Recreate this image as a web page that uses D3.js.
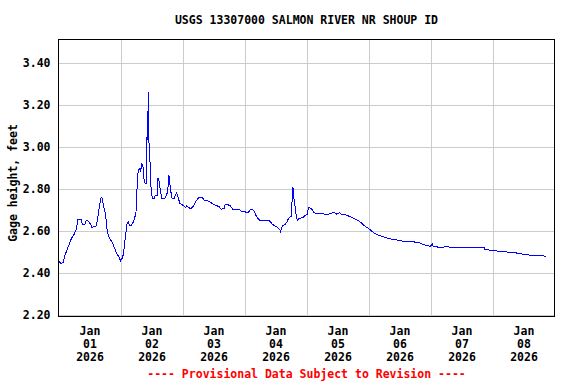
<!DOCTYPE html>
<html>
<head>
<meta charset="utf-8">
<script src="https://cdn.jsdelivr.net/npm/d3@7"></script>
<style>
  body { margin: 0; background: #fff; }
  text { font-family: "DejaVu Sans Mono", monospace; font-weight: bold; font-size: 11.5px; }
</style>
</head>
<body>
<svg id="chart" width="576" height="384"></svg>
<script>
// gage height readings
var times = [
  "01-01 00:00","01-01 01:00","01-01 01:45","01-01 02:30","01-01 03:45","01-01 05:00","01-01 06:00","01-01 07:00",
  "01-01 07:30","01-01 08:45","01-01 09:15","01-01 10:15","01-01 10:45","01-01 11:30","01-01 12:15","01-01 13:00",
  "01-01 13:30","01-01 14:30","01-01 15:00","01-01 15:30","01-01 16:00","01-01 16:30","01-01 16:45","01-01 17:15",
  "01-01 17:45","01-01 18:15","01-01 18:45","01-01 19:15","01-01 20:00","01-01 21:00","01-01 21:45","01-01 22:30",
  "01-01 23:30",
  "01-02 00:00","01-02 00:45","01-02 01:15","01-02 01:30","01-02 02:00","01-02 02:30","01-02 03:00","01-02 03:30",
  "01-02 04:15","01-02 05:00","01-02 05:30","01-02 06:00","01-02 06:15","01-02 06:45","01-02 07:15","01-02 07:45",
  "01-02 08:15","01-02 08:45","01-02 09:00","01-02 09:30","01-02 10:00","01-02 10:15","01-02 10:30","01-02 10:45",
  "01-02 11:00","01-02 11:15","01-02 11:30","01-02 11:45","01-02 12:15","01-02 12:30","01-02 13:00","01-02 13:30",
  "01-02 14:15","01-02 14:30","01-02 15:00","01-02 15:30","01-02 16:00","01-02 17:00","01-02 17:30","01-02 18:15",
  "01-02 18:45","01-02 19:00","01-02 19:30","01-02 20:00","01-02 20:45","01-02 21:15","01-02 21:45","01-02 22:15",
  "01-02 23:00",
  "01-03 00:15","01-03 01:15","01-03 01:30","01-03 02:30","01-03 03:15","01-03 04:15","01-03 05:00","01-03 05:45",
  "01-03 06:30","01-03 07:30","01-03 08:30","01-03 10:00","01-03 11:00","01-03 11:30","01-03 12:45","01-03 13:30",
  "01-03 14:15","01-03 15:00","01-03 16:15","01-03 16:30","01-03 18:30","01-03 18:45","01-03 19:30","01-03 21:15",
  "01-03 22:15","01-03 23:00",
  "01-04 00:15","01-04 00:45","01-04 01:30","01-04 02:15","01-04 03:00","01-04 03:45","01-04 04:15","01-04 05:00",
  "01-04 05:45","01-04 09:15","01-04 10:00","01-04 10:45","01-04 11:30","01-04 12:15","01-04 13:00","01-04 13:45",
  "01-04 14:00","01-04 14:15","01-04 14:45","01-04 15:45","01-04 16:30","01-04 17:00","01-04 17:45","01-04 18:15",
  "01-04 18:30","01-04 18:45","01-04 19:00","01-04 19:15","01-04 19:45","01-04 20:00","01-04 20:30","01-04 21:00",
  "01-04 22:45","01-04 23:30",
  "01-05 00:15","01-05 00:45","01-05 01:30","01-05 02:15","01-05 03:00","01-05 05:00","01-05 07:00","01-05 08:00",
  "01-05 09:30","01-05 10:45","01-05 11:30","01-05 12:45","01-05 13:45","01-05 15:00","01-05 16:15","01-05 17:45",
  "01-05 19:15","01-05 20:30","01-05 21:30","01-05 22:15","01-05 23:30",
  "01-06 00:45","01-06 01:45","01-06 03:00","01-06 04:15","01-06 05:45","01-06 07:30","01-06 09:30","01-06 11:30",
  "01-06 13:00","01-06 16:15","01-06 18:30","01-06 20:00","01-06 22:00",
  "01-07 00:00","01-07 00:45","01-07 01:00","01-07 02:30","01-07 02:45","01-07 07:00","01-07 07:30","01-07 20:45",
  "01-07 21:00",
  "01-08 00:15","01-08 03:00","01-08 08:45","01-08 12:00","01-08 15:00","01-08 20:45"
];
var gageHeight = [
  2.455,2.441,2.448,2.482,2.522,2.562,2.581,2.610,
  2.652,2.652,2.629,2.629,2.650,2.644,2.633,2.614,
  2.618,2.619,2.644,2.689,2.728,2.759,2.759,2.728,
  2.701,2.676,2.610,2.578,2.559,2.538,2.514,2.490,
  2.473,
  2.455,2.470,2.495,2.530,2.578,2.629,2.641,2.625,
  2.625,2.641,2.660,2.689,2.768,2.871,2.895,2.882,
  2.917,2.903,2.848,2.824,2.824,3.046,3.030,3.260,
  3.030,2.935,2.925,2.816,2.760,2.752,2.752,2.768,
  2.768,2.851,2.832,2.784,2.752,2.752,2.760,2.784,
  2.863,2.832,2.784,2.752,2.752,2.768,2.781,2.760,
  2.728,
  2.720,2.709,2.717,2.708,2.705,2.717,2.736,2.749,
  2.759,2.759,2.743,2.740,2.733,2.728,2.720,2.717,
  2.713,2.701,2.705,2.724,2.720,2.713,2.701,2.701,
  2.698,2.689,
  2.689,2.686,2.686,2.698,2.701,2.692,2.676,2.660,
  2.650,2.650,2.641,2.631,2.622,2.620,2.612,2.603,
  2.590,2.610,2.622,2.629,2.641,2.657,2.667,2.667,
  2.784,2.806,2.781,2.736,2.705,2.670,2.648,2.657,
  2.663,2.673,
  2.676,2.710,2.706,2.700,2.684,2.681,2.678,2.676,
  2.681,2.687,2.678,2.684,2.676,2.676,2.669,2.662,
  2.652,2.643,2.633,2.624,2.614,
  2.602,2.592,2.582,2.576,2.570,2.563,2.557,2.554,
  2.550,2.548,2.544,2.540,2.530,
  2.525,2.535,2.525,2.525,2.518,2.524,2.518,2.518,
  2.511,
  2.504,2.501,2.494,2.487,2.482,2.478
];
var yTicks = [2.20, 2.40, 2.60, 2.80, 3.00, 3.20, 3.40];
var dayLabels = ["01", "02", "03", "04", "05", "06", "07", "08"];
var title = "USGS 13307000 SALMON RIVER NR SHOUP ID";
var yTitle = "Gage height, feet";
var footnote = "---- Provisional Data Subject to Revision ----";

var parse = d3.timeParse("%Y-%m-%d %H:%M");
var data = times.map(function(t, i) {
  return { date: parse("2026-" + t), value: gageHeight[i] };
});

var plotLeft = 58.5, plotRight = 554.5, plotTop = 39.5, plotBottom = 316.5;
var svg = d3.select("#chart");

var x = d3.scaleTime()
  .domain([new Date(2026, 0, 1), new Date(2026, 0, 9)])
  .range([plotLeft, plotRight]);
var y = d3.scaleLinear()
  .domain([2.2 - 2 / 210, 3.4 + 23 / 210])
  .range([plotBottom, plotTop]);

var dayStarts = d3.range(1, 8).map(function(d) { return new Date(2026, 0, d + 1); });
var dayNoons = dayLabels.map(function(d, i) { return new Date(2026, 0, i + 1, 12); });

// grid
var gx = svg.append("g")
  .attr("transform", "translate(0," + plotBottom + ")")
  .call(d3.axisBottom(x).tickValues(dayStarts).tickSize(-(plotBottom - plotTop)).tickFormat(""));
gx.select(".domain").remove();
gx.selectAll("line").attr("stroke", "#cccccc").attr("shape-rendering", "crispEdges");

var gy = svg.append("g")
  .attr("transform", "translate(" + plotLeft + ",0)")
  .call(d3.axisLeft(y).tickValues(yTicks).tickSize(-(plotRight - plotLeft)).tickFormat(""));
gy.select(".domain").remove();
gy.selectAll("line").attr("stroke", "#cccccc").attr("shape-rendering", "crispEdges");

// y tick labels
var ya = svg.append("g")
  .attr("transform", "translate(" + plotLeft + ",0)")
  .call(d3.axisLeft(y).tickValues(yTicks).tickSize(0).tickPadding(8).tickFormat(d3.format(".2f")));
ya.select(".domain").remove();
ya.selectAll("text").attr("fill", "#000").style("font-size", "11.5px")
  .style("font-family", "'DejaVu Sans Mono', monospace").style("font-weight", "bold");

// x tick labels, three lines
var xa = svg.append("g")
  .attr("transform", "translate(0," + plotBottom + ")")
  .call(d3.axisBottom(x).tickValues(dayNoons).tickSize(0).tickFormat(""));
xa.select(".domain").remove();
xa.selectAll(".tick").each(function(d, i) {
  var t = d3.select(this).select("text")
    .attr("y", 0).attr("dy", null).attr("fill", "#000")
    .style("font-size", "11.5px").style("font-family", "'DejaVu Sans Mono', monospace")
    .style("font-weight", "bold");
  t.append("tspan").attr("x", 0).attr("y", 18).text("Jan");
  t.append("tspan").attr("x", 0).attr("y", 31).text(dayLabels[i]);
  t.append("tspan").attr("x", 0).attr("y", 44).text("2026");
});

// line
var line = d3.line()
  .x(function(d) { return x(d.date); })
  .y(function(d) { return y(d.value); });
svg.append("path")
  .datum(data)
  .attr("d", line)
  .attr("fill", "none")
  .attr("stroke", "#0000ff")
  .attr("stroke-width", 1)
  .attr("shape-rendering", "crispEdges");

// frame
svg.append("rect")
  .attr("x", plotLeft).attr("y", plotTop)
  .attr("width", plotRight - plotLeft).attr("height", plotBottom - plotTop)
  .attr("fill", "none").attr("stroke", "#000").attr("stroke-width", 1)
  .attr("shape-rendering", "crispEdges");

svg.append("text")
  .attr("x", (plotLeft + plotRight) / 2).attr("y", 24)
  .attr("text-anchor", "middle")
  .text(title);

svg.append("text")
  .attr("transform", "translate(17," + ((plotTop + plotBottom) / 2 + 5) + ") rotate(-90)")
  .attr("text-anchor", "middle")
  .text(yTitle);

svg.append("text")
  .attr("x", (plotLeft + plotRight) / 2).attr("y", 378)
  .attr("text-anchor", "middle")
  .attr("fill", "#ff0000")
  .text(footnote);
</script>
</body>
</html>
